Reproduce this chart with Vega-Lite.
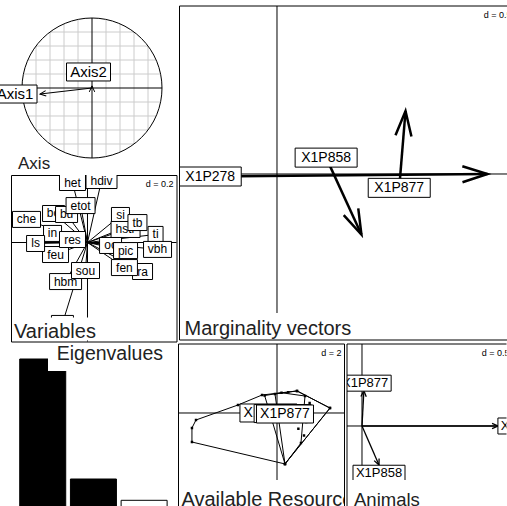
{
"$schema": "https://vega.github.io/schema/vega-lite/v6.json",
"padding": 0,
"background": "white",
"config": {"font": "Liberation Sans", "view": {"stroke": null}, "axis": {"labels": false, "ticks": false, "domain": false, "grid": true, "gridColor": "#cccccc", "gridWidth": 1, "translate": 0}, "concat": {"spacing": 0}},
"datasets": {
"cgrid": [
{"o":"v","p":-0.8,"a":-0.6,"b":0.6},{"o":"v","p":-0.6,"a":-0.8,"b":0.8},{"o":"v","p":-0.4,"a":-0.9165,"b":0.9165},{"o":"v","p":-0.2,"a":-0.9798,"b":0.9798},
{"o":"v","p":0.2,"a":-0.9798,"b":0.9798},{"o":"v","p":0.4,"a":-0.9165,"b":0.9165},{"o":"v","p":0.6,"a":-0.8,"b":0.8},{"o":"v","p":0.8,"a":-0.6,"b":0.6},
{"o":"h","p":-0.8,"a":-0.6,"b":0.6},{"o":"h","p":-0.6,"a":-0.8,"b":0.8},{"o":"h","p":-0.4,"a":-0.9165,"b":0.9165},{"o":"h","p":-0.2,"a":-0.9798,"b":0.9798},
{"o":"h","p":0.2,"a":-0.9798,"b":0.9798},{"o":"h","p":0.4,"a":-0.9165,"b":0.9165},{"o":"h","p":0.6,"a":-0.8,"b":0.8},{"o":"h","p":0.8,"a":-0.6,"b":0.6}
],
"axes": [{"lab":"Axis1","x":-0.743,"y":-0.086,"lx":-1.1,"ly":-0.086},{"lab":"Axis2","x":0,"y":0.03,"lx":-0.05,"ly":0.229}],
"vars": [
{"v":"che","x":-0.431,"y":0.163},{"v":"bo","x":-0.24,"y":0.205},{"v":"bu","x":-0.148,"y":0.198},{"v":"etot","x":-0.049,"y":0.261},
{"v":"het","x":-0.106,"y":0.424},{"v":"hdiv","x":0.099,"y":0.438},{"v":"in","x":-0.247,"y":0.064},{"v":"ls","x":-0.367,"y":-0.007},
{"v":"feu","x":-0.226,"y":-0.085},{"v":"res","x":-0.106,"y":0.021},{"v":"hbm","x":-0.155,"y":-0.276},{"v":"sou","x":-0.014,"y":-0.198},
{"v":"alt","x":-0.177,"y":-0.572},{"v":"si","x":0.233,"y":0.191},{"v":"ti","x":0.481,"y":0.057},
{"v":"hstr","x":0.269,"y":0.092},{"v":"tb","x":0.353,"y":0.141},{"v":"oc","x":0.163,"y":-0.021},{"v":"pic","x":0.269,"y":-0.057},
{"v":"vbh","x":0.495,"y":-0.049},{"v":"ra","x":0.389,"y":-0.205},{"v":"fen","x":0.261,"y":-0.177}
],
"marg": [{"a":"X1P278","x":-0.53,"y":-0.02,"xe":1.67,"ye":0},{"a":"X1P858","x":0.39,"y":0.13,"xe":0.67,"ye":-0.48},{"a":"X1P877","x":0.97,"y":-0.11,"xe":1.02,"ye":0.5}],
"eig": [{"axis":1,"eig":1.0,"kept":"yes"},{"axis":2,"eig":0.2,"kept":"yes"},{"axis":3,"eig":0.058,"kept":"no"}],
"avail": [
{"a":"X1P278","x":-7.2,"y":-0.62},{"a":"X1P278","x":-3.47,"y":0.71},{"a":"X1P278","x":-1.33,"y":1.6},{"a":"X1P278","x":1.78,"y":1.96},{"a":"X1P278","x":4.71,"y":0.44},{"a":"X1P278","x":0.71,"y":-4.53},{"a":"X1P278","x":-7.56,"y":-2.58},{"a":"X1P278","x":-7.56,"y":-1.33},{"a":"X1P278","x":1.2,"y":0.5},{"a":"X1P278","x":2.6,"y":-0.8},
{"a":"X1P858","x":-1.1,"y":1.55},{"a":"X1P858","x":0.4,"y":1.8},{"a":"X1P858","x":2.49,"y":1.51},{"a":"X1P858","x":2.13,"y":-2.67},{"a":"X1P858","x":0.71,"y":-4.53},{"a":"X1P858","x":1.9,"y":-1.4},{"a":"X1P858","x":2.3,"y":-0.3},
{"a":"X1P877","x":-0.18,"y":1.69},{"a":"X1P877","x":1.0,"y":1.85},{"a":"X1P877","x":1.78,"y":1.96},{"a":"X1P877","x":4.71,"y":0.44},{"a":"X1P877","x":0.71,"y":-4.53},{"a":"X1P877","x":2.9,"y":0.9},{"a":"X1P877","x":2.4,"y":-2.0}
],
"hull": [
{"a":"X1P278","i":1,"x":-7.2,"y":-0.62},{"a":"X1P278","i":2,"x":-3.47,"y":0.71},{"a":"X1P278","i":3,"x":-1.33,"y":1.6},{"a":"X1P278","i":4,"x":1.78,"y":1.96},{"a":"X1P278","i":5,"x":4.71,"y":0.44},{"a":"X1P278","i":6,"x":0.71,"y":-4.53},{"a":"X1P278","i":7,"x":-7.56,"y":-2.58},{"a":"X1P278","i":8,"x":-7.56,"y":-1.33},{"a":"X1P278","i":9,"x":-7.2,"y":-0.62},
{"a":"X1P858","i":1,"x":-1.1,"y":1.55},{"a":"X1P858","i":2,"x":0.4,"y":1.8},{"a":"X1P858","i":3,"x":2.49,"y":1.51},{"a":"X1P858","i":4,"x":2.13,"y":-2.67},{"a":"X1P858","i":5,"x":0.71,"y":-4.53},{"a":"X1P858","i":6,"x":-1.1,"y":1.55},
{"a":"X1P877","i":1,"x":-0.18,"y":1.69},{"a":"X1P877","i":2,"x":1.78,"y":1.96},{"a":"X1P877","i":3,"x":4.71,"y":0.44},{"a":"X1P877","i":4,"x":0.71,"y":-4.53},{"a":"X1P877","i":5,"x":-0.18,"y":1.69}
],
"cent": [{"a":"X1P278","x":-0.76,"y":0.0},{"a":"X1P858","x":0.5,"y":-0.05},{"a":"X1P877","x":0.71,"y":-0.09}],
"anim": [{"a":"X1P877","x":0.03,"y":0.56,"lx":0.05,"ly":0.68},{"a":"X1P858","x":0.27,"y":-0.62,"lx":0.27,"ly":-0.75},{"a":"X1P278","x":2.16,"y":0,"lx":2.57,"ly":0}]
},
"vconcat": [
{"hconcat": [
  {"vconcat": [
    {"width": 176, "height": 173,
     "layer": [
      {"data": {"name": "cgrid"}, "transform": [{"filter": "datum.o == 'v'"}], "mark": {"type": "rule", "color": "#cccccc", "strokeWidth": 1},
       "encoding": {"x": {"field": "p", "type": "quantitative", "scale": {"domain": [-1.3143, 1.2], "nice": false, "zero": false}, "axis": null},
                    "y": {"field": "a", "type": "quantitative", "scale": {"domain": [-1.2286, 1.2429], "nice": false, "zero": false}, "axis": null},
                    "y2": {"field": "b"}}},
      {"data": {"name": "cgrid"}, "transform": [{"filter": "datum.o == 'h'"}], "mark": {"type": "rule", "color": "#cccccc", "strokeWidth": 1},
       "encoding": {"y": {"field": "p", "type": "quantitative", "scale": {"domain": [-1.2286, 1.2429], "nice": false, "zero": false}, "axis": null},
                    "x": {"field": "a", "type": "quantitative", "scale": {"domain": [-1.3143, 1.2], "nice": false, "zero": false}, "axis": null},
                    "x2": {"field": "b"}}},
      {"data": {"values": [{"cx": 0, "cy": 0}]}, "mark": {"type": "point", "shape": "circle", "size": 19600, "filled": false, "stroke": "black", "strokeWidth": 1, "opacity": 1},
       "encoding": {"x": {"field": "cx", "type": "quantitative", "scale": {"domain": [-1.3143, 1.2], "nice": false, "zero": false}, "axis": null},
                    "y": {"field": "cy", "type": "quantitative", "scale": {"domain": [-1.2286, 1.2429], "nice": false, "zero": false}, "axis": null}}},
      {"data": {"values": [{"x1": -1, "y1": 0, "x2": 1, "y2": 0}, {"x1": 0, "y1": -1, "x2": 0, "y2": 1}]}, "mark": {"type": "rule", "color": "black", "strokeWidth": 1},
       "encoding": {"x": {"field": "x1", "type": "quantitative", "scale": {"domain": [-1.3143, 1.2], "nice": false, "zero": false}, "axis": null},
                    "y": {"field": "y1", "type": "quantitative", "scale": {"domain": [-1.2286, 1.2429], "nice": false, "zero": false}, "axis": null},
                    "x2": {"field": "x2"}, "y2": {"field": "y2"}}},
      {"data": {"name": "axes"}, "mark": {"type": "rule", "color": "black", "strokeWidth": 1},
       "encoding": {"x": {"field": "x", "type": "quantitative", "scale": {"domain": [-1.3143, 1.2], "nice": false, "zero": false}, "axis": null},
                    "y": {"field": "y", "type": "quantitative", "scale": {"domain": [-1.2286, 1.2429], "nice": false, "zero": false}, "axis": null},
                    "x2": {"datum": 0}, "y2": {"datum": 0}}},
      {"data": {"name": "axes"}, "transform": [{"calculate": "-atan2(datum.y, datum.x) * 180 / PI", "as": "ang"}],
       "mark": {"type": "point", "shape": "M-1,-0.45L0,0L-1,0.45", "size": 144, "filled": false, "stroke": "black", "strokeWidth": 1, "opacity": 1},
       "encoding": {"x": {"field": "x", "type": "quantitative", "scale": {"domain": [-1.3143, 1.2], "nice": false, "zero": false}, "axis": null},
                    "y": {"field": "y", "type": "quantitative", "scale": {"domain": [-1.2286, 1.2429], "nice": false, "zero": false}, "axis": null},
                    "angle": {"field": "ang", "type": "quantitative", "scale": null}}},
      {"data": {"name": "axes"}, "mark": {"type": "point", "shape": "M-22,-9H22V9H-22Z", "size": 4, "filled": true, "fill": "white", "stroke": "black", "strokeWidth": 1, "opacity": 1, "clip": true},
       "encoding": {"x": {"field": "lx", "type": "quantitative", "scale": {"domain": [-1.3143, 1.2], "nice": false, "zero": false}, "axis": null},
                    "y": {"field": "ly", "type": "quantitative", "scale": {"domain": [-1.2286, 1.2429], "nice": false, "zero": false}, "axis": null}}},
      {"data": {"name": "axes"}, "mark": {"type": "text", "fontSize": 15, "baseline": "middle", "align": "center", "clip": true, "color": "black"},
       "encoding": {"x": {"field": "lx", "type": "quantitative", "scale": {"domain": [-1.3143, 1.2], "nice": false, "zero": false}, "axis": null},
                    "y": {"field": "ly", "type": "quantitative", "scale": {"domain": [-1.2286, 1.2429], "nice": false, "zero": false}, "axis": null},
                    "text": {"field": "lab"}}},
      {"data": {"values": [{"t": "Axis"}]}, "mark": {"type": "text", "fontSize": 17, "align": "left", "baseline": "alphabetic", "color": "#222222", "clip": true},
       "encoding": {"x": {"datum": -1.057, "type": "quantitative", "scale": {"domain": [-1.3143, 1.2], "nice": false, "zero": false}, "axis": null},
                    "y": {"datum": -1.157, "type": "quantitative", "scale": {"domain": [-1.2286, 1.2429], "nice": false, "zero": false}, "axis": null},
                    "text": {"field": "t"}}}
     ]},
    {"hconcat": [
      {"width": 10.5, "height": 166.5, "data": {"values": [{"s": 0}]}, "mark": {"type": "point", "opacity": 0}},
      {"width": 165.5, "height": 166.5, "view": {"stroke": "black", "strokeWidth": 1},
       "layer": [
        {"data": {"values": [{"z": 0}]}, "mark": {"type": "rule", "color": "black", "strokeWidth": 1},
         "encoding": {"x": {"field": "z", "type": "quantitative", "scale": {"domain": [-0.5406, 0.629], "nice": false, "zero": false}, "axis": {"values": [-0.4, -0.2, 0.2, 0.4, 0.6], "title": null}}}},
        {"data": {"values": [{"z": 0}]}, "mark": {"type": "rule", "color": "black", "strokeWidth": 1},
         "encoding": {"y": {"field": "z", "type": "quantitative", "scale": {"domain": [-0.6996, 0.477], "nice": false, "zero": false}, "axis": {"values": [-0.6, -0.4, -0.2, 0.2, 0.4], "title": null}}}},
        {"data": {"name": "vars"}, "mark": {"type": "rule", "color": "black", "strokeWidth": 1, "clip": true},
         "encoding": {"x": {"field": "x", "type": "quantitative", "scale": {"domain": [-0.5406, 0.629], "nice": false, "zero": false}, "axis": null},
                      "y": {"field": "y", "type": "quantitative", "scale": {"domain": [-0.6996, 0.477], "nice": false, "zero": false}, "axis": null},
                      "x2": {"datum": 0}, "y2": {"datum": 0}}},
        {"data": {"name": "vars"}, "transform": [{"calculate": "-atan2(datum.y, datum.x) * 180 / PI", "as": "ang"}],
         "mark": {"type": "point", "shape": "M-1,-0.5L0,0L-1,0.5", "size": 100, "filled": false, "stroke": "black", "strokeWidth": 1, "opacity": 1, "clip": true},
         "encoding": {"x": {"field": "x", "type": "quantitative", "scale": {"domain": [-0.5406, 0.629], "nice": false, "zero": false}, "axis": null},
                      "y": {"field": "y", "type": "quantitative", "scale": {"domain": [-0.6996, 0.477], "nice": false, "zero": false}, "axis": null},
                      "angle": {"field": "ang", "type": "quantitative", "scale": null}}},
        {"data": {"name": "vars"}, "transform": [{"filter": {"field": "v", "oneOf": ["che","bo","in","feu","hbm","alt","si","ti","oc","ra","het","hdiv"]}}],
         "mark": {"type": "point", "size": 4, "filled": true, "fill": "white", "stroke": "black", "strokeWidth": 1, "opacity": 1, "clip": true},
         "encoding": {"x": {"field": "x", "type": "quantitative", "scale": {"domain": [-0.5406, 0.629], "nice": false, "zero": false}, "axis": null},
                      "y": {"field": "y", "type": "quantitative", "scale": {"domain": [-0.6996, 0.477], "nice": false, "zero": false}, "axis": null},
                      "shape": {"field": "v", "type": "nominal", "legend": null, "scale": {"domain": ["che","bo","bu","etot","het","hdiv","in","ls","feu","res","hbm","sou","alt","si","ti","hstr","tb","oc","pic","vbh","ra","fen"], "range": ["M-14,-8H14V8H-14Z","M-11,-8H11V8H-11Z","M-11,-8H11V8H-11Z","M-14.5,-8H14.5V8H-14.5Z","M-13,-8H13V8H-13Z","M-15.5,-8H15.5V8H-15.5Z","M-9,-8H9V8H-9Z","M-9,-8H9V8H-9Z","M-13,-8H13V8H-13Z","M-13,-8H13V8H-13Z","M-16,-8H16V8H-16Z","M-14,-8H14V8H-14Z","M-11,-8H11V8H-11Z","M-9,-8H9V8H-9Z","M-7.5,-8H7.5V8H-7.5Z","M-14.5,-8H14.5V8H-14.5Z","M-9.5,-8H9.5V8H-9.5Z","M-11,-8H11V8H-11Z","M-12,-8H12V8H-12Z","M-14,-8H14V8H-14Z","M-10,-8H10V8H-10Z","M-13,-8H13V8H-13Z"]}}}},
        {"data": {"name": "vars"}, "transform": [{"filter": {"field": "v", "oneOf": ["che","bo","in","feu","hbm","alt","si","ti","oc","ra","het","hdiv"]}}],
         "mark": {"type": "text", "fontSize": 12, "baseline": "middle", "align": "center", "clip": true, "color": "black"},
         "encoding": {"x": {"field": "x", "type": "quantitative", "scale": {"domain": [-0.5406, 0.629], "nice": false, "zero": false}, "axis": null},
                      "y": {"field": "y", "type": "quantitative", "scale": {"domain": [-0.6996, 0.477], "nice": false, "zero": false}, "axis": null},
                      "text": {"field": "v"}}},
        {"data": {"name": "vars"}, "transform": [{"filter": {"field": "v", "oneOf": ["bu","ls","res","sou","hstr","vbh","pic","fen"]}}],
         "mark": {"type": "point", "size": 4, "filled": true, "fill": "white", "stroke": "black", "strokeWidth": 1, "opacity": 1, "clip": true},
         "encoding": {"x": {"field": "x", "type": "quantitative", "scale": {"domain": [-0.5406, 0.629], "nice": false, "zero": false}, "axis": null},
                      "y": {"field": "y", "type": "quantitative", "scale": {"domain": [-0.6996, 0.477], "nice": false, "zero": false}, "axis": null},
                      "shape": {"field": "v", "type": "nominal", "legend": null, "scale": {"domain": ["che","bo","bu","etot","het","hdiv","in","ls","feu","res","hbm","sou","alt","si","ti","hstr","tb","oc","pic","vbh","ra","fen"], "range": ["M-14,-8H14V8H-14Z","M-11,-8H11V8H-11Z","M-11,-8H11V8H-11Z","M-14.5,-8H14.5V8H-14.5Z","M-13,-8H13V8H-13Z","M-15.5,-8H15.5V8H-15.5Z","M-9,-8H9V8H-9Z","M-9,-8H9V8H-9Z","M-13,-8H13V8H-13Z","M-13,-8H13V8H-13Z","M-16,-8H16V8H-16Z","M-14,-8H14V8H-14Z","M-11,-8H11V8H-11Z","M-9,-8H9V8H-9Z","M-7.5,-8H7.5V8H-7.5Z","M-14.5,-8H14.5V8H-14.5Z","M-9.5,-8H9.5V8H-9.5Z","M-11,-8H11V8H-11Z","M-12,-8H12V8H-12Z","M-14,-8H14V8H-14Z","M-10,-8H10V8H-10Z","M-13,-8H13V8H-13Z"]}}}},
        {"data": {"name": "vars"}, "transform": [{"filter": {"field": "v", "oneOf": ["bu","ls","res","sou","hstr","vbh","pic","fen"]}}],
         "mark": {"type": "text", "fontSize": 12, "baseline": "middle", "align": "center", "clip": true, "color": "black"},
         "encoding": {"x": {"field": "x", "type": "quantitative", "scale": {"domain": [-0.5406, 0.629], "nice": false, "zero": false}, "axis": null},
                      "y": {"field": "y", "type": "quantitative", "scale": {"domain": [-0.6996, 0.477], "nice": false, "zero": false}, "axis": null},
                      "text": {"field": "v"}}},
        {"data": {"name": "vars"}, "transform": [{"filter": {"field": "v", "oneOf": ["etot","tb"]}}],
         "mark": {"type": "point", "size": 4, "filled": true, "fill": "white", "stroke": "black", "strokeWidth": 1, "opacity": 1, "clip": true},
         "encoding": {"x": {"field": "x", "type": "quantitative", "scale": {"domain": [-0.5406, 0.629], "nice": false, "zero": false}, "axis": null},
                      "y": {"field": "y", "type": "quantitative", "scale": {"domain": [-0.6996, 0.477], "nice": false, "zero": false}, "axis": null},
                      "shape": {"field": "v", "type": "nominal", "legend": null, "scale": {"domain": ["che","bo","bu","etot","het","hdiv","in","ls","feu","res","hbm","sou","alt","si","ti","hstr","tb","oc","pic","vbh","ra","fen"], "range": ["M-14,-8H14V8H-14Z","M-11,-8H11V8H-11Z","M-11,-8H11V8H-11Z","M-14.5,-8H14.5V8H-14.5Z","M-13,-8H13V8H-13Z","M-15.5,-8H15.5V8H-15.5Z","M-9,-8H9V8H-9Z","M-9,-8H9V8H-9Z","M-13,-8H13V8H-13Z","M-13,-8H13V8H-13Z","M-16,-8H16V8H-16Z","M-14,-8H14V8H-14Z","M-11,-8H11V8H-11Z","M-9,-8H9V8H-9Z","M-7.5,-8H7.5V8H-7.5Z","M-14.5,-8H14.5V8H-14.5Z","M-9.5,-8H9.5V8H-9.5Z","M-11,-8H11V8H-11Z","M-12,-8H12V8H-12Z","M-14,-8H14V8H-14Z","M-10,-8H10V8H-10Z","M-13,-8H13V8H-13Z"]}}}},
        {"data": {"name": "vars"}, "transform": [{"filter": {"field": "v", "oneOf": ["etot","tb"]}}],
         "mark": {"type": "text", "fontSize": 12, "baseline": "middle", "align": "center", "clip": true, "color": "black"},
         "encoding": {"x": {"field": "x", "type": "quantitative", "scale": {"domain": [-0.5406, 0.629], "nice": false, "zero": false}, "axis": null},
                      "y": {"field": "y", "type": "quantitative", "scale": {"domain": [-0.6996, 0.477], "nice": false, "zero": false}, "axis": null},
                      "text": {"field": "v"}}},
        {"data": {"values": [{"t": "Variables"}]}, "mark": {"type": "point", "shape": "M1,-1H92V-24H1Z", "size": 4, "filled": true, "fill": "white", "strokeWidth": 0, "opacity": 1, "clip": true},
         "encoding": {"x": {"datum": -0.5406, "type": "quantitative", "scale": {"domain": [-0.5406, 0.629], "nice": false, "zero": false}, "axis": null},
                      "y": {"datum": -0.6996, "type": "quantitative", "scale": {"domain": [-0.6996, 0.477], "nice": false, "zero": false}, "axis": null}}},
        {"data": {"values": [{"t": "Variables"}]}, "mark": {"type": "text", "fontSize": 20, "align": "left", "baseline": "alphabetic", "dx": 3, "dy": -4, "color": "#222222", "clip": true},
         "encoding": {"x": {"datum": -0.5406, "type": "quantitative", "scale": {"domain": [-0.5406, 0.629], "nice": false, "zero": false}, "axis": null},
                      "y": {"datum": -0.6996, "type": "quantitative", "scale": {"domain": [-0.6996, 0.477], "nice": false, "zero": false}, "axis": null},
                      "text": {"field": "t"}}},
        {"data": {"values": [{"t": "d = 0.2"}]}, "mark": {"type": "text", "fontSize": 9, "align": "right", "baseline": "top", "dx": -3, "dy": 5, "color": "black", "clip": true},
         "encoding": {"x": {"datum": 0.629, "type": "quantitative", "scale": {"domain": [-0.5406, 0.629], "nice": false, "zero": false}, "axis": null},
                      "y": {"datum": 0.477, "type": "quantitative", "scale": {"domain": [-0.6996, 0.477], "nice": false, "zero": false}, "axis": null},
                      "text": {"field": "t"}}}
       ]}
    ], "spacing": 0, "bounds": "flush", "resolve": {"scale": {"x": "independent", "y": "independent"}, "axis": {"x": "independent", "y": "independent"}}}
  ], "spacing": 0, "resolve": {"scale": {"x": "independent", "y": "independent"}, "axis": {"x": "independent", "y": "independent"}}},
  {"vconcat": [
    {"width": 329, "height": 5, "data": {"values": [{"s": 0}]}, "mark": {"type": "point", "opacity": 0}},
    {"width": 329, "height": 334,
     "layer": [
      {"data": {"values": [{"z": 0}]}, "mark": {"type": "rule", "color": "black", "strokeWidth": 1},
       "encoding": {"x": {"field": "z", "type": "quantitative", "scale": {"domain": [-0.7738, 1.8373], "nice": false, "zero": false}, "axis": {"values": [-0.5, 0.5, 1, 1.5], "title": null}}}},
      {"data": {"values": [{"z": 0}]}, "mark": {"type": "rule", "color": "black", "strokeWidth": 1},
       "encoding": {"y": {"field": "z", "type": "quantitative", "scale": {"domain": [-1.3175, 1.3333], "nice": false, "zero": false}, "axis": {"values": [-1, -0.5, 0.5, 1], "title": null}}}},
      {"data": {"name": "marg"}, "mark": {"type": "rule", "color": "black", "strokeWidth": 2.5, "clip": true},
       "encoding": {"x": {"field": "x", "type": "quantitative", "scale": {"domain": [-0.7738, 1.8373], "nice": false, "zero": false}, "axis": null},
                    "y": {"field": "y", "type": "quantitative", "scale": {"domain": [-1.3175, 1.3333], "nice": false, "zero": false}, "axis": null},
                    "x2": {"field": "xe"}, "y2": {"field": "ye"}}},
      {"data": {"name": "marg"}, "transform": [{"calculate": "-atan2(datum.ye - datum.y, datum.xe - datum.x) * 180 / PI", "as": "ang"}],
       "mark": {"type": "point", "shape": "M-1,-0.32L0,0L-1,0.32", "size": 2500, "filled": false, "stroke": "black", "strokeWidth": 2.5, "opacity": 1, "clip": true},
       "encoding": {"x": {"field": "xe", "type": "quantitative", "scale": {"domain": [-0.7738, 1.8373], "nice": false, "zero": false}, "axis": null},
                    "y": {"field": "ye", "type": "quantitative", "scale": {"domain": [-1.3175, 1.3333], "nice": false, "zero": false}, "axis": null},
                    "angle": {"field": "ang", "type": "quantitative", "scale": null}}},
      {"data": {"name": "marg"}, "mark": {"type": "point", "shape": "M-31,-9.5H31V9.5H-31Z", "size": 4, "filled": true, "fill": "white", "stroke": "black", "strokeWidth": 1, "opacity": 1, "clip": true},
       "encoding": {"x": {"field": "x", "type": "quantitative", "scale": {"domain": [-0.7738, 1.8373], "nice": false, "zero": false}, "axis": null},
                    "y": {"field": "y", "type": "quantitative", "scale": {"domain": [-1.3175, 1.3333], "nice": false, "zero": false}, "axis": null}}},
      {"data": {"name": "marg"}, "mark": {"type": "text", "fontSize": 14, "baseline": "middle", "align": "center", "clip": true, "color": "black"},
       "encoding": {"x": {"field": "x", "type": "quantitative", "scale": {"domain": [-0.7738, 1.8373], "nice": false, "zero": false}, "axis": null},
                    "y": {"field": "y", "type": "quantitative", "scale": {"domain": [-1.3175, 1.3333], "nice": false, "zero": false}, "axis": null},
                    "text": {"field": "a"}}},
      {"data": {"values": [{"t": "Marginality vectors"}]}, "mark": {"type": "point", "shape": "M0,0H175V-27H0Z", "size": 4, "filled": true, "fill": "white", "strokeWidth": 0, "opacity": 1, "clip": true},
       "encoding": {"x": {"datum": -0.7738, "type": "quantitative", "scale": {"domain": [-0.7738, 1.8373], "nice": false, "zero": false}, "axis": null},
                    "y": {"datum": -1.3175, "type": "quantitative", "scale": {"domain": [-1.3175, 1.3333], "nice": false, "zero": false}, "axis": null}}},
      {"data": {"values": [{"t": "Marginality vectors"}]}, "mark": {"type": "text", "fontSize": 20, "align": "left", "baseline": "alphabetic", "dx": 5, "dy": -5, "color": "#222222", "clip": true},
       "encoding": {"x": {"datum": -0.7738, "type": "quantitative", "scale": {"domain": [-0.7738, 1.8373], "nice": false, "zero": false}, "axis": null},
                    "y": {"datum": -1.3175, "type": "quantitative", "scale": {"domain": [-1.3175, 1.3333], "nice": false, "zero": false}, "axis": null},
                    "text": {"field": "t"}}},
      {"data": {"values": [{"t": "d = 0.5"}]}, "mark": {"type": "text", "fontSize": 9, "align": "right", "baseline": "top", "dx": 3, "dy": 5, "color": "black", "clip": true},
       "encoding": {"x": {"datum": 1.8373, "type": "quantitative", "scale": {"domain": [-0.7738, 1.8373], "nice": false, "zero": false}, "axis": null},
                    "y": {"datum": 1.3333, "type": "quantitative", "scale": {"domain": [-1.3175, 1.3333], "nice": false, "zero": false}, "axis": null},
                    "text": {"field": "t"}}},
      {"data": {"values": [{"bx": -0.7738}]}, "mark": {"type": "rule", "color": "black", "strokeWidth": 1},
       "encoding": {"x": {"field": "bx", "type": "quantitative", "scale": {"domain": [-0.7738, 1.8373], "nice": false, "zero": false}, "axis": null}}},
      {"data": {"values": [{"by": -1.3175}, {"by": 1.3333}]}, "mark": {"type": "rule", "color": "black", "strokeWidth": 1},
       "encoding": {"y": {"field": "by", "type": "quantitative", "scale": {"domain": [-1.3175, 1.3333], "nice": false, "zero": false}, "axis": null}}}
     ]}
  ], "spacing": 0, "bounds": "flush", "resolve": {"scale": {"x": "independent", "y": "independent"}, "axis": {"x": "independent", "y": "independent"}}}
], "spacing": 0.5, "resolve": {"scale": {"x": "independent", "y": "independent"}, "axis": {"x": "independent", "y": "independent"}}},
{"hconcat": [
  {"width": 176, "height": 165,
   "layer": [
    {"data": {"name": "eig"}, "mark": {"type": "bar", "width": 46, "stroke": "black", "strokeWidth": 1, "clip": true},
     "encoding": {"x": {"field": "axis", "type": "quantitative", "scale": {"domain": [0.2558, 3.5302], "nice": false, "zero": false}, "axis": null},
                  "y": {"field": "eig", "type": "quantitative", "scale": {"domain": [0, 1.1], "nice": false}, "axis": null},
                  "fill": {"field": "kept", "type": "nominal", "legend": null, "scale": {"domain": ["yes", "no"], "range": ["black", "white"]}}}},
    {"data": {"values": [{"t": "Eigenvalues"}]}, "mark": {"type": "point", "shape": "M0,0H-123V27H0Z", "size": 4, "filled": true, "fill": "white", "strokeWidth": 0, "opacity": 1, "clip": true},
     "encoding": {"x": {"datum": 3.5302, "type": "quantitative", "scale": {"domain": [0.2558, 3.5302], "nice": false, "zero": false}, "axis": null},
                  "y": {"datum": 1.1, "type": "quantitative", "scale": {"domain": [0, 1.1], "nice": false}, "axis": null}}},
    {"data": {"values": [{"t": "Eigenvalues"}]}, "mark": {"type": "text", "fontSize": 19.5, "align": "right", "baseline": "top", "dx": -8, "dy": 1, "color": "#222222", "clip": true},
     "encoding": {"x": {"datum": 3.5302, "type": "quantitative", "scale": {"domain": [0.2558, 3.5302], "nice": false, "zero": false}, "axis": null},
                  "y": {"datum": 1.1, "type": "quantitative", "scale": {"domain": [0, 1.1], "nice": false}, "axis": null},
                  "text": {"field": "t"}}}
   ]},
  {"width": 166, "height": 165,
   "layer": [
    {"data": {"values": [{"z": 0}]}, "mark": {"type": "rule", "color": "black", "strokeWidth": 1},
     "encoding": {"x": {"field": "z", "type": "quantitative", "scale": {"domain": [-8.7556, 6.0], "nice": false, "zero": false}, "axis": {"values": [-8, -6, -4, -2, 2, 4], "title": null}}}},
    {"data": {"values": [{"z": 0}]}, "mark": {"type": "rule", "color": "black", "strokeWidth": 1},
     "encoding": {"y": {"field": "z", "type": "quantitative", "scale": {"domain": [-8.5333, 6.1333], "nice": false, "zero": false}, "axis": {"values": [-8, -6, -4, -2, 2, 4, 6], "title": null}}}},
    {"data": {"name": "hull"}, "mark": {"type": "line", "color": "black", "strokeWidth": 1, "clip": true},
     "encoding": {"x": {"field": "x", "type": "quantitative", "scale": {"domain": [-8.7556, 6.0], "nice": false, "zero": false}, "axis": null},
                  "y": {"field": "y", "type": "quantitative", "scale": {"domain": [-8.5333, 6.1333], "nice": false, "zero": false}, "axis": null},
                  "detail": {"field": "a"}, "order": {"field": "i", "type": "quantitative"}}},
    {"data": {"name": "avail"}, "mark": {"type": "point", "shape": "square", "size": 6, "filled": true, "color": "black", "opacity": 1, "clip": true},
     "encoding": {"x": {"field": "x", "type": "quantitative", "scale": {"domain": [-8.7556, 6.0], "nice": false, "zero": false}, "axis": null},
                  "y": {"field": "y", "type": "quantitative", "scale": {"domain": [-8.5333, 6.1333], "nice": false, "zero": false}, "axis": null}}},
    {"data": {"name": "cent"}, "transform": [{"filter": "datum.a == 'X1P278'"}], "mark": {"type": "point", "shape": "M-28.5,-9H28.5V9H-28.5Z", "size": 4, "filled": true, "fill": "white", "stroke": "black", "strokeWidth": 1, "opacity": 1, "clip": true},
     "encoding": {"x": {"field": "x", "type": "quantitative", "scale": {"domain": [-8.7556, 6.0], "nice": false, "zero": false}, "axis": null},
                  "y": {"field": "y", "type": "quantitative", "scale": {"domain": [-8.5333, 6.1333], "nice": false, "zero": false}, "axis": null}}},
    {"data": {"name": "cent"}, "transform": [{"filter": "datum.a == 'X1P278'"}], "mark": {"type": "text", "fontSize": 14, "baseline": "middle", "align": "center", "clip": true, "color": "black"},
     "encoding": {"x": {"field": "x", "type": "quantitative", "scale": {"domain": [-8.7556, 6.0], "nice": false, "zero": false}, "axis": null},
                  "y": {"field": "y", "type": "quantitative", "scale": {"domain": [-8.5333, 6.1333], "nice": false, "zero": false}, "axis": null},
                  "text": {"field": "a"}}},
    {"data": {"name": "cent"}, "transform": [{"filter": "datum.a == 'X1P858'"}], "mark": {"type": "point", "shape": "M-28.5,-9H28.5V9H-28.5Z", "size": 4, "filled": true, "fill": "white", "stroke": "black", "strokeWidth": 1, "opacity": 1, "clip": true},
     "encoding": {"x": {"field": "x", "type": "quantitative", "scale": {"domain": [-8.7556, 6.0], "nice": false, "zero": false}, "axis": null},
                  "y": {"field": "y", "type": "quantitative", "scale": {"domain": [-8.5333, 6.1333], "nice": false, "zero": false}, "axis": null}}},
    {"data": {"name": "cent"}, "transform": [{"filter": "datum.a == 'X1P858'"}], "mark": {"type": "text", "fontSize": 14, "baseline": "middle", "align": "center", "clip": true, "color": "black"},
     "encoding": {"x": {"field": "x", "type": "quantitative", "scale": {"domain": [-8.7556, 6.0], "nice": false, "zero": false}, "axis": null},
                  "y": {"field": "y", "type": "quantitative", "scale": {"domain": [-8.5333, 6.1333], "nice": false, "zero": false}, "axis": null},
                  "text": {"field": "a"}}},
    {"data": {"name": "cent"}, "transform": [{"filter": "datum.a == 'X1P877'"}], "mark": {"type": "point", "shape": "M-28.5,-9H28.5V9H-28.5Z", "size": 4, "filled": true, "fill": "white", "stroke": "black", "strokeWidth": 1, "opacity": 1, "clip": true},
     "encoding": {"x": {"field": "x", "type": "quantitative", "scale": {"domain": [-8.7556, 6.0], "nice": false, "zero": false}, "axis": null},
                  "y": {"field": "y", "type": "quantitative", "scale": {"domain": [-8.5333, 6.1333], "nice": false, "zero": false}, "axis": null}}},
    {"data": {"name": "cent"}, "transform": [{"filter": "datum.a == 'X1P877'"}], "mark": {"type": "text", "fontSize": 14, "baseline": "middle", "align": "center", "clip": true, "color": "black"},
     "encoding": {"x": {"field": "x", "type": "quantitative", "scale": {"domain": [-8.7556, 6.0], "nice": false, "zero": false}, "axis": null},
                  "y": {"field": "y", "type": "quantitative", "scale": {"domain": [-8.5333, 6.1333], "nice": false, "zero": false}, "axis": null},
                  "text": {"field": "a"}}},
    {"data": {"values": [{"t": "Available Resources"}]}, "mark": {"type": "point", "shape": "M0,0H170V-29H0Z", "size": 4, "filled": true, "fill": "white", "strokeWidth": 0, "opacity": 1, "clip": true},
     "encoding": {"x": {"datum": -8.7556, "type": "quantitative", "scale": {"domain": [-8.7556, 6.0], "nice": false, "zero": false}, "axis": null},
                  "y": {"datum": -8.5333, "type": "quantitative", "scale": {"domain": [-8.5333, 6.1333], "nice": false, "zero": false}, "axis": null}}},
    {"data": {"values": [{"t": "Available Resources"}]}, "mark": {"type": "text", "fontSize": 20, "align": "left", "baseline": "alphabetic", "dx": 3, "dy": -3, "color": "#222222", "clip": true},
     "encoding": {"x": {"datum": -8.7556, "type": "quantitative", "scale": {"domain": [-8.7556, 6.0], "nice": false, "zero": false}, "axis": null},
                  "y": {"datum": -8.5333, "type": "quantitative", "scale": {"domain": [-8.5333, 6.1333], "nice": false, "zero": false}, "axis": null},
                  "text": {"field": "t"}}},
    {"data": {"values": [{"t": "d = 2"}]}, "mark": {"type": "text", "fontSize": 9, "align": "right", "baseline": "top", "dx": -3, "dy": 5, "color": "black", "clip": true},
     "encoding": {"x": {"datum": 6.0, "type": "quantitative", "scale": {"domain": [-8.7556, 6.0], "nice": false, "zero": false}, "axis": null},
                  "y": {"datum": 6.1333, "type": "quantitative", "scale": {"domain": [-8.5333, 6.1333], "nice": false, "zero": false}, "axis": null},
                  "text": {"field": "t"}}},
    {"data": {"values": [{"bx": -8.7556}, {"bx": 6.0}]}, "mark": {"type": "rule", "color": "black", "strokeWidth": 1},
     "encoding": {"x": {"field": "bx", "type": "quantitative", "scale": {"domain": [-8.7556, 6.0], "nice": false, "zero": false}, "axis": null}}},
    {"data": {"values": [{"by": 6.1333}]}, "mark": {"type": "rule", "color": "black", "strokeWidth": 1},
     "encoding": {"y": {"field": "by", "type": "quantitative", "scale": {"domain": [-8.5333, 6.1333], "nice": false, "zero": false}, "axis": null}}}
   ]},
  {"width": 159.5, "height": 165,
   "layer": [
    {"data": {"values": [{"z": 0}]}, "mark": {"type": "rule", "color": "black", "strokeWidth": 1},
     "encoding": {"x": {"field": "z", "type": "quantitative", "scale": {"domain": [-0.2381, 2.2937], "nice": false, "zero": false}, "axis": {"values": [0.5, 1, 1.5, 2], "title": null}}}},
    {"data": {"values": [{"z": 0}]}, "mark": {"type": "rule", "color": "black", "strokeWidth": 1},
     "encoding": {"y": {"field": "z", "type": "quantitative", "scale": {"domain": [-1.3175, 1.3016], "nice": false, "zero": false}, "axis": {"values": [-1, -0.5, 0.5, 1], "title": null}}}},
    {"data": {"name": "anim"}, "mark": {"type": "rule", "color": "black", "strokeWidth": 1.3, "clip": true},
     "encoding": {"x": {"field": "x", "type": "quantitative", "scale": {"domain": [-0.2381, 2.2937], "nice": false, "zero": false}, "axis": null},
                  "y": {"field": "y", "type": "quantitative", "scale": {"domain": [-1.3175, 1.3016], "nice": false, "zero": false}, "axis": null},
                  "x2": {"datum": 0}, "y2": {"datum": 0}}},
    {"data": {"name": "anim"}, "transform": [{"calculate": "-atan2(datum.y, datum.x) * 180 / PI", "as": "ang"}],
     "mark": {"type": "point", "shape": "M-1,-0.45L0,0L-1,0.45", "size": 144, "filled": false, "stroke": "black", "strokeWidth": 1.3, "opacity": 1, "clip": true},
     "encoding": {"x": {"field": "x", "type": "quantitative", "scale": {"domain": [-0.2381, 2.2937], "nice": false, "zero": false}, "axis": null},
                  "y": {"field": "y", "type": "quantitative", "scale": {"domain": [-1.3175, 1.3016], "nice": false, "zero": false}, "axis": null},
                  "angle": {"field": "ang", "type": "quantitative", "scale": null}}},
    {"data": {"name": "anim"}, "mark": {"type": "point", "shape": "M-26,-8H26V8H-26Z", "size": 4, "filled": true, "fill": "white", "stroke": "black", "strokeWidth": 1, "opacity": 1, "clip": true},
     "encoding": {"x": {"field": "lx", "type": "quantitative", "scale": {"domain": [-0.2381, 2.2937], "nice": false, "zero": false}, "axis": null},
                  "y": {"field": "ly", "type": "quantitative", "scale": {"domain": [-1.3175, 1.3016], "nice": false, "zero": false}, "axis": null}}},
    {"data": {"name": "anim"}, "mark": {"type": "text", "fontSize": 13, "baseline": "middle", "align": "center", "clip": true, "color": "black"},
     "encoding": {"x": {"field": "lx", "type": "quantitative", "scale": {"domain": [-0.2381, 2.2937], "nice": false, "zero": false}, "axis": null},
                  "y": {"field": "ly", "type": "quantitative", "scale": {"domain": [-1.3175, 1.3016], "nice": false, "zero": false}, "axis": null},
                  "text": {"field": "a"}}},
    {"data": {"values": [{"t": "Animals"}]}, "mark": {"type": "point", "shape": "M0,0H78V-29H0Z", "size": 4, "filled": true, "fill": "white", "strokeWidth": 0, "opacity": 1, "clip": true},
     "encoding": {"x": {"datum": -0.2381, "type": "quantitative", "scale": {"domain": [-0.2381, 2.2937], "nice": false, "zero": false}, "axis": null},
                  "y": {"datum": -1.3175, "type": "quantitative", "scale": {"domain": [-1.3175, 1.3016], "nice": false, "zero": false}, "axis": null}}},
    {"data": {"values": [{"t": "Animals"}]}, "mark": {"type": "text", "fontSize": 18.5, "align": "left", "baseline": "alphabetic", "dx": 7, "dy": -3, "color": "#222222", "clip": true},
     "encoding": {"x": {"datum": -0.2381, "type": "quantitative", "scale": {"domain": [-0.2381, 2.2937], "nice": false, "zero": false}, "axis": null},
                  "y": {"datum": -1.3175, "type": "quantitative", "scale": {"domain": [-1.3175, 1.3016], "nice": false, "zero": false}, "axis": null},
                  "text": {"field": "t"}}},
    {"data": {"values": [{"t": "d = 0.5"}]}, "mark": {"type": "text", "fontSize": 9, "align": "right", "baseline": "top", "dx": 3, "dy": 5, "color": "black", "clip": true},
     "encoding": {"x": {"datum": 2.2937, "type": "quantitative", "scale": {"domain": [-0.2381, 2.2937], "nice": false, "zero": false}, "axis": null},
                  "y": {"datum": 1.3016, "type": "quantitative", "scale": {"domain": [-1.3175, 1.3016], "nice": false, "zero": false}, "axis": null},
                  "text": {"field": "t"}}},
    {"data": {"values": [{"bx": -0.2381}]}, "mark": {"type": "rule", "color": "black", "strokeWidth": 1},
     "encoding": {"x": {"field": "bx", "type": "quantitative", "scale": {"domain": [-0.2381, 2.2937], "nice": false, "zero": false}, "axis": null}}},
    {"data": {"values": [{"by": 1.3016}]}, "mark": {"type": "rule", "color": "black", "strokeWidth": 1},
     "encoding": {"y": {"field": "by", "type": "quantitative", "scale": {"domain": [-1.3175, 1.3016], "nice": false, "zero": false}, "axis": null}}}
   ]}
], "spacing": 2.5, "bounds": "flush", "resolve": {"scale": {"x": "independent", "y": "independent", "fill": "independent"}, "axis": {"x": "independent", "y": "independent"}}}
],
"spacing": 0,
"resolve": {"scale": {"x": "independent", "y": "independent"}, "axis": {"x": "independent", "y": "independent"}}
}
